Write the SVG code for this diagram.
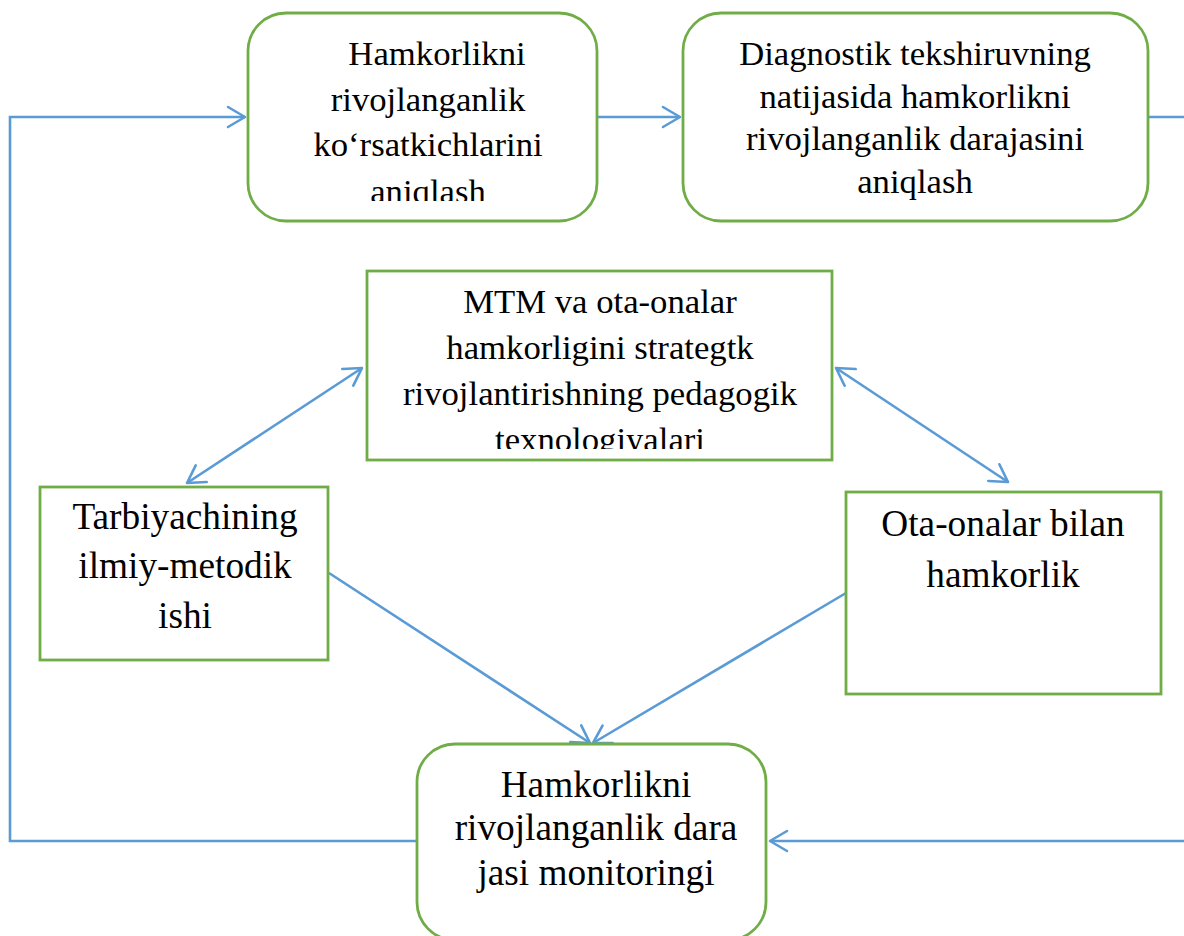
<svg xmlns="http://www.w3.org/2000/svg" width="1184" height="936" viewBox="0 0 1184 936">
  <style>
    .box { fill: #ffffff; stroke: #70AD47; stroke-width: 2.8; }
    .conn { fill: none; stroke: #5B9BD5; stroke-width: 2.6; }
    .t26 { font-family: "Liberation Serif", "Times New Roman", serif; font-size: 34.7px; fill: #000000; text-anchor: middle; }
    .t28 { font-family: "Liberation Serif", "Times New Roman", serif; font-size: 37.3px; fill: #000000; text-anchor: middle; }
  </style>
  <defs>
    <marker id="arr" markerUnits="userSpaceOnUse" markerWidth="24" markerHeight="24" viewBox="-20 -12 22 24" refX="0" refY="0" orient="auto-start-reverse">
      <path d="M -17 -10 L 0 0 L -17 10" fill="none" stroke="#5B9BD5" stroke-width="2.6" stroke-linecap="round" stroke-linejoin="round"/>
    </marker>
    <clipPath id="clip1"><rect x="248" y="13" width="349" height="188"/></clipPath>
    <clipPath id="clip3"><rect x="367" y="271" width="465" height="178"/></clipPath>
  </defs>
  <rect width="1184" height="936" fill="#ffffff"/>

  <g id="connectors">
    <polyline class="conn" points="417,841 10,841 10,117 245,117" marker-end="url(#arr)"/>
    <line class="conn" x1="597" y1="117" x2="680" y2="117" marker-end="url(#arr)"/>
    <line class="conn" x1="1148" y1="117" x2="1186" y2="117"/>
    <line class="conn" x1="1186" y1="841" x2="770" y2="841" marker-end="url(#arr)"/>
    <line class="conn" x1="187" y1="483" x2="362" y2="368" marker-start="url(#arr)" marker-end="url(#arr)"/>
    <line class="conn" x1="836" y1="368" x2="1008" y2="482" marker-start="url(#arr)" marker-end="url(#arr)"/>
    <line class="conn" x1="329" y1="573" x2="590" y2="743" marker-end="url(#arr)"/>
    <line class="conn" x1="846" y1="593" x2="593" y2="743" marker-end="url(#arr)"/>
  </g>

  <g id="node1">
    <rect class="box" x="248" y="13" width="349" height="208" rx="38" ry="38"/>
    <g clip-path="url(#clip1)">
      <text class="t26" x="437" y="65">Hamkorlikni</text>
      <text class="t26" x="428" y="110.5">rivojlanganlik</text>
      <text class="t26" x="428" y="156">ko‘rsatkichlarini</text>
      <text class="t26" x="428" y="203">aniqlash</text>
    </g>
  </g>

  <g id="node2">
    <rect class="box" x="683" y="13" width="465" height="208" rx="38" ry="38"/>
    <text class="t26" x="915" y="65">Diagnostik tekshiruvning</text>
    <text class="t26" x="915" y="108">natijasida hamkorlikni</text>
    <text class="t26" x="915" y="150">rivojlanganlik darajasini</text>
    <text class="t26" x="915" y="193">aniqlash</text>
  </g>

  <g id="node3">
    <rect class="box" x="367" y="271" width="465" height="189"/>
    <g clip-path="url(#clip3)">
      <text class="t26" x="600" y="313">MTM va ota-onalar</text>
      <text class="t26" x="600" y="359">hamkorligini strategtk</text>
      <text class="t26" x="600" y="405">rivojlantirishning pedagogik</text>
      <text class="t26" x="600" y="451">texnologiyalari</text>
    </g>
  </g>

  <g id="node4">
    <rect class="box" x="40" y="487" width="288" height="173"/>
    <text class="t28" x="185" y="529">Tarbiyachining</text>
    <text class="t28" x="185" y="578">ilmiy-metodik</text>
    <text class="t28" x="185" y="628">ishi</text>
  </g>

  <g id="node5">
    <rect class="box" x="846" y="492" width="315" height="202"/>
    <text class="t28" x="1003" y="536">Ota-onalar bilan</text>
    <text class="t28" x="1003" y="587">hamkorlik</text>
  </g>

  <g id="node6">
    <rect class="box" x="417" y="744" width="349" height="196" rx="38" ry="38"/>
    <text class="t28" x="596" y="797">Hamkorlikni</text>
    <text class="t28" x="596" y="840">rivojlanganlik dara</text>
    <text class="t28" x="596" y="885">jasi monitoringi</text>
  </g>
</svg>
